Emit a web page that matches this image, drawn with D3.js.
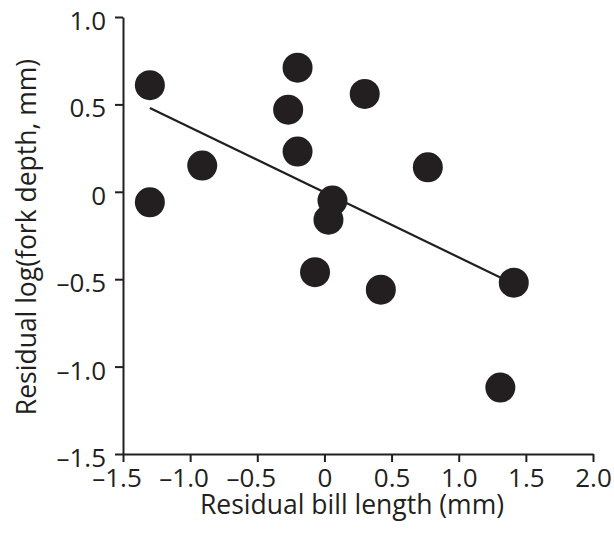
<!DOCTYPE html>
<html>
<head>
<meta charset="utf-8">
<script src="https://cdn.jsdelivr.net/npm/d3@7"></script>
<style>
  body { margin: 0; background: #fff; }
  svg text { font-family: "Open Sans", sans-serif; fill: #231f20; }
</style>
</head>
<body>
<div id="chart"></div>
<script>
// residual bill length (mm)
var billResid = [-1.30, -1.30, -0.91, -0.20, -0.27, -0.20, 0.06, 0.03, -0.07, 0.30, 0.77, 1.41, 0.42, 1.31];
// residual log(fork depth, mm)
var forkResid = [0.61, -0.06, 0.15, 0.71, 0.47, 0.23, -0.05, -0.16, -0.46, 0.56, 0.14, -0.52, -0.56, -1.12];
// fitted line end points
var fitX = [-1.30, 1.31];
var fitY = [0.48, -0.49];
var xTicks = [-1.5, -1.0, -0.5, 0, 0.5, 1.0, 1.5, 2.0];
var yTicks = [-1.5, -1.0, -0.5, 0, 0.5, 1.0];

var width = 614, height = 536,
    margin = { top: 17, right: 21, bottom: 82, left: 123 };

var fmt = function (d) {
  var s = d === 0 ? "0" : d3.format(".1f")(Math.abs(d));
  return d < 0 ? "\u2013" + s : s;
};

var x = d3.scaleLinear().domain([-1.5, 2.0]).range([margin.left, width - margin.right]),
    y = d3.scaleLinear().domain([-1.5, 1.0]).range([height - margin.bottom, margin.top]);

var svg = d3.select("#chart").append("svg")
    .attr("width", width)
    .attr("height", height);

// x axis
var gx = svg.append("g")
    .attr("transform", "translate(0," + y(-1.5) + ")")
    .call(d3.axisBottom(x).tickValues(xTicks).tickFormat(fmt).tickSizeInner(8).tickSizeOuter(0).tickPadding(7));
// y axis
var gy = svg.append("g")
    .attr("transform", "translate(" + x(-1.5) + ",0)")
    .call(d3.axisLeft(y).tickValues(yTicks).tickFormat(fmt).tickSizeInner(8).tickSizeOuter(0).tickPadding(9));

[gx, gy].forEach(function (g) {
  g.select(".domain").attr("stroke", "#231f20").attr("stroke-width", 2);
  g.selectAll(".tick line").attr("stroke", "#231f20").attr("stroke-width", 2);
  g.selectAll(".tick text").attr("font-size", "26px").attr("fill", "#231f20")
    .style("font-family", "'Open Sans', sans-serif");
});
// minus sign hangs to the left of the centred number
gx.selectAll(".tick text").attr("dx", function (d) { return d < 0 ? "-0.25em" : 0; });
gy.selectAll(".tick text").attr("dy", "0.48em");

// fitted line
svg.append("line")
    .attr("x1", x(fitX[0])).attr("y1", y(fitY[0]))
    .attr("x2", x(fitX[1])).attr("y2", y(fitY[1]))
    .attr("stroke", "#231f20")
    .attr("stroke-width", 2.2);

// points
svg.selectAll("circle")
    .data(billResid)
    .enter()
    .append("circle")
    .attr("cx", function (d) { return x(d); })
    .attr("cy", function (d, i) { return y(forkResid[i]); })
    .attr("r", 15)
    .attr("fill", "#231f20");

// axis titles
svg.append("text")
    .attr("x", 352)
    .attr("y", 514)
    .attr("text-anchor", "middle")
    .attr("font-size", "26.5px")
    .text("Residual bill length (mm)");

svg.append("text")
    .attr("transform", "translate(36,237) rotate(-90)")
    .attr("text-anchor", "middle")
    .attr("font-size", "26.5px")
    .text("Residual log(fork depth, mm)");
</script>
</body>
</html>
